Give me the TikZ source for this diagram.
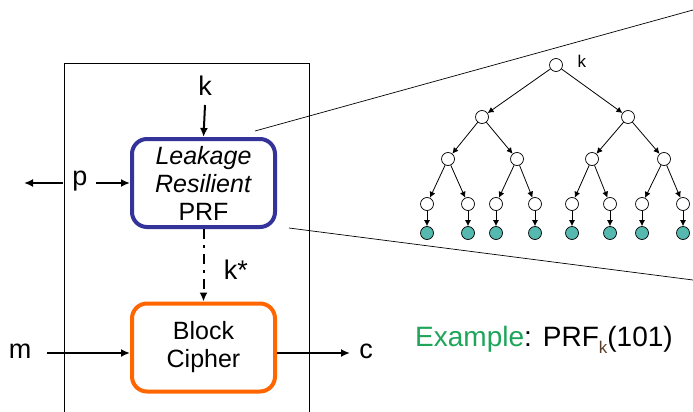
\documentclass[tikz,border=0pt]{standalone}
\usepackage{fontspec}
\setmainfont{Liberation Sans}
\usetikzlibrary{arrows.meta}
\definecolor{prfblue}{RGB}{51,51,153}
\definecolor{bcorange}{RGB}{255,102,0}
\definecolor{leafteal}{RGB}{85,185,175}
\definecolor{exgreen}{RGB}{30,165,90}
\definecolor{subbrown}{RGB}{90,60,40}
\tikzset{
  blk/.style={draw, line width=4pt, rounded corners=15pt, fill=white,
    minimum width=143pt, minimum height=88pt, align=center,
    font=\fontsize{25}{28}\selectfont},
  lbl/.style={font=\fontsize{27}{28}\selectfont, inner sep=0pt},
  wire/.style={line width=2pt, -{Latex[length=9pt,width=8pt]}},
  tnode/.style={circle, draw, line width=0.7pt, minimum size=13pt, inner sep=0pt},
  leaf/.style={tnode, fill=leafteal},
  tedge/.style={line width=0.8pt, -{Latex[length=6pt,width=6pt]}}
}

\begin{document}
\begin{tikzpicture}[x=1pt,y=-1pt]
        \useasboundingbox (0,0) rectangle (693,412);
        % device outline
        \draw[line width=1pt] (64,412) -- (64,64) -- (309,64) -- (309,412);

        % the two blocks
        \node[blk, draw=prfblue] (prf) at (203.5,183) {\textit{Leakage}\\\textit{Resilient}\\PRF};
        \node[blk, draw=bcorange] (bc) at (203.5,347.5) {Block\\Cipher};

        % labels
        \node[lbl] (k) at (205,86) {k};
        \node[lbl] (p) at (80,181) {p};
        \node[lbl] (kstar) at (236,270) {k*};
        \node[lbl] (m) at (20,351) {m};
        \node[lbl] (c) at (366,351) {c};
        \coordinate (pout) at (24,183);
        \coordinate (pin) at (96,183);
        \coordinate (kin) at (205,105);
        \coordinate (min) at (47,353);
        \coordinate (bcin) at (130,353);
        \coordinate (bcout) at (277,353);
        \coordinate (cend) at (350,353);

        % wires
        \draw[wire] (kin) -- (prf.north);
        \draw[wire] (63,183) -- (pout);
        \draw[wire] (pin) -- (prf.west |- pin);
        \draw[wire, dash pattern=on 10pt off 6pt on 3pt off 6pt] (prf.south) -- (bc.north);
        \draw[wire] (min) -- (bcin);
        \draw[wire] (bcout) -- (cend);

        % zoom lines
        \coordinate (zt) at (693,10);
        \coordinate (zb) at (693,280);
        \draw[line width=0.7pt] ([shift={(-22,-6)}]prf.north east) -- (zt);
        \draw[line width=0.7pt] ([shift={(12,-1)}]prf.south east) -- (zb);

        % the tree
        \node[tnode] (r) at (556,65) {};
        \node[font=\fontsize{17}{18}\selectfont, anchor=west] (rk) at (574,61) {k};
        \node[tnode] (a1) at (482,117) {};
        \node[tnode] (a2) at (628,117) {};
        \foreach \i/\x in {1/448,2/517,3/592,4/664}
          \node[tnode] (b\i) at (\x,159) {};
        \foreach \i/\x in {1/427,2/468,3/496,4/535,5/572,6/610,7/642,8/683} {
          \node[tnode] (c\i) at (\x,204) {};
          \node[leaf] (d\i) at (\x,233) {};
        }
        \draw[tedge] (r) -- (a1);
        \draw[tedge] (r) -- (a2);
        \draw[tedge] (a1) -- (b1);
        \draw[tedge] (a1) -- (b2);
        \draw[tedge] (a2) -- (b3);
        \draw[tedge] (a2) -- (b4);
        \foreach \i/\j/\k in {1/1/2,2/3/4,3/5/6,4/7/8} {
          \draw[tedge] (b\i) -- (c\j);
          \draw[tedge] (b\i) -- (c\k);
        }
        \foreach \i in {1,...,8}
          \draw[tedge] (c\i) -- (d\i);

        % example
        \node[anchor=west, inner sep=0pt, font=\fontsize{28}{30}\selectfont] (ex) at (415,340)
          {\textcolor{exgreen}{Example}:\hspace{11pt}PRF\raisebox{-7pt}{\fontsize{17}{17}\selectfont\textcolor{subbrown}{k}}(101)};
    \end{tikzpicture}
\end{document}
